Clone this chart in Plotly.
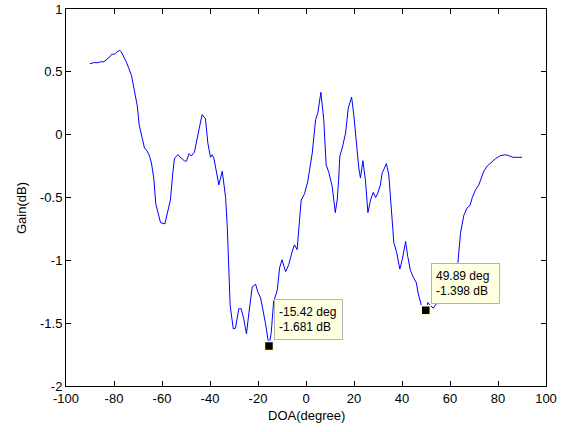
import plotly.graph_objects as go

doa = [-90.0, -88.4, -86.7, -85.6, -84.2, -82.8, -81.7, -81.0, -79.8, -78.7, -77.6, -77.0,
       -75.9, -74.8, -73.8, -72.7, -72.0, -71.0, -70.3, -69.5, -68.3, -67.3, -66.2, -65.2,
       -64.4, -63.4, -62.6, -60.6, -58.8, -57.6, -56.5, -55.5, -54.8, -53.4, -52.0, -50.6,
       -49.8, -48.7, -47.8, -46.5, -45.3, -44.2, -43.3, -41.9, -40.9, -39.8, -39.1, -38.4,
       -37.3, -36.3, -34.9, -34.3, -33.5, -32.8, -32.1, -31.6, -30.3, -29.4, -28.0, -27.0,
       -25.9, -24.8, -23.8, -22.4, -21.0, -20.1, -18.9, -17.8, -16.9, -15.42, -14.5, -13.5,
       -12.0, -11.0, -10.0, -8.5, -7.2, -5.75, -4.8, -3.7, -2.0, -0.6, 0.75, 2.6,
       4.0, 4.9, 6.2, 7.4, 8.4, 9.5, 10.2, 10.9, 12.2, 13.0, 13.6, 14.1,
       15.1, 16.5, 17.6, 19.0, 19.9, 20.9, 22.0, 22.7, 23.7, 24.8, 25.8, 26.9,
       28.0, 29.0, 29.9, 31.0, 31.75, 32.7, 33.5, 34.5, 35.6, 36.6, 37.7, 39.1,
       40.1, 41.5, 42.4, 43.5, 44.6, 46.0, 46.7, 47.7, 48.5, 49.89, 50.8, 51.9,
       53.0, 55.0, 57.0, 59.0, 61.0, 63.3, 64.4, 65.8, 67.2, 68.3, 69.3, 70.6,
       72.0, 73.0, 74.1, 75.5, 77.2, 79.0, 81.0, 83.1, 84.5, 86.3, 88.3, 90.0]

gain = [0.565, 0.573, 0.573, 0.58, 0.58, 0.60, 0.62, 0.64, 0.64, 0.66, 0.67, 0.66,
        0.62, 0.576, 0.525, 0.47, 0.40, 0.31, 0.23, 0.077, -0.013, -0.106, -0.13, -0.17,
        -0.225, -0.35, -0.55, -0.70, -0.71, -0.62, -0.52, -0.305, -0.19, -0.16, -0.185, -0.21,
        -0.21, -0.15, -0.17, -0.14, -0.026, 0.08, 0.16, 0.127, -0.066, -0.18, -0.16, -0.185,
        -0.29, -0.40, -0.29, -0.37, -0.50, -0.73, -1.05, -1.36, -1.545, -1.54, -1.385, -1.385,
        -1.47, -1.585, -1.42, -1.21, -1.19, -1.25, -1.30, -1.40, -1.50, -1.681, -1.58, -1.33,
        -1.24, -1.06, -0.995, -1.09, -1.035, -0.93, -0.876, -0.915, -0.52, -0.47, -0.37, -0.146,
        0.12, 0.17, 0.337, 0.12, -0.24, -0.30, -0.37, -0.41, -0.62, -0.52, -0.36, -0.17,
        -0.106, 0.013, 0.21, 0.30, 0.16, -0.066, -0.265, -0.345, -0.207, -0.37, -0.62, -0.52,
        -0.46, -0.50, -0.465, -0.40, -0.305, -0.265, -0.23, -0.32, -0.60, -0.86, -0.93, -1.07,
        -0.995, -0.85, -0.97, -1.08, -1.13, -1.18, -1.26, -1.345, -1.39, -1.398, -1.335, -1.36,
        -1.38, -1.33, -1.26, -1.19, -1.10, -1.017, -0.78, -0.64, -0.58, -0.565, -0.50, -0.44,
        -0.40, -0.35, -0.29, -0.25, -0.22, -0.19, -0.167, -0.16, -0.167, -0.18, -0.18, -0.18]

tip_doa = [-15.42, 49.89]
tip_gain = [-1.681, -1.398]
tip_text = ["-15.42 deg<br>-1.681 dB", "49.89 deg<br>-1.398 dB"]

x_ticks = [-100, -80, -60, -40, -20, 0, 20, 40, 60, 80, 100]
x_labels = ["-100", "-80", "-60", "-40", "-20", "0", "20", "40", "60", "80", "100"]
y_ticks = [-2, -1.5, -1, -0.5, 0, 0.5, 1]
y_labels = ["-2", "-1.5", "-1", "-0.5", "0", "0.5", "1"]

FONT = "Liberation Sans, Arial, sans-serif"
PLOT_H = 432 - 9 - 46

fig = go.Figure()
fig.add_trace(go.Scatter(x=doa, y=gain, mode="lines",
                         line=dict(color="#0000ff", width=1), showlegend=False,
                         hoverinfo="skip"))
fig.add_trace(go.Scatter(x=tip_doa, y=tip_gain, mode="markers",
                         marker=dict(symbol="square", size=9, color="black",
                                     line=dict(color="#ffffd0", width=1.5)),
                         showlegend=False, hoverinfo="skip"))

annotations = []
for xv, yv, t in zip(tip_doa, tip_gain, tip_text):
    annotations.append(dict(x=xv, y=yv, xref="x", yref="y", text=t, showarrow=False,
                            xanchor="left", yanchor="bottom", xshift=5, yshift=6,
                            align="left", width=59, height=31, borderpad=4,
                            bgcolor="#ffffe1", bordercolor="#b4b4b4", borderwidth=1,
                            font=dict(family=FONT, size=12, color="black")))

annotations.append(dict(x=0.5, y=(386 - 415) / PLOT_H, xref="paper", yref="paper",
                        text="DOA(degree)", showarrow=False, yanchor="middle",
                        font=dict(family=FONT, size=13, color="black")))
annotations.append(dict(x=(21 - 66) / 480, y=(386 - 208) / PLOT_H, xref="paper", yref="paper",
                        text="Gain(dB)", showarrow=False, textangle=-90,
                        xanchor="center", yanchor="middle",
                        font=dict(family=FONT, size=13, color="black")))

fig.update_layout(
    width=571, height=432,
    margin=dict(l=66, r=25, t=9, b=46, autoexpand=False),
    paper_bgcolor="white", plot_bgcolor="white",
    font=dict(family=FONT, size=13, color="black"),
    annotations=annotations,
)

fig.update_xaxes(range=[-100, 100], tickvals=x_ticks, ticktext=x_labels,
                 ticks="inside", ticklen=5, tickcolor="black", tickwidth=1,
                 showline=True, linecolor="black", linewidth=1, mirror="ticks",
                 showgrid=False, zeroline=False, automargin=False,
                 tickfont=dict(family=FONT, size=13, color="black"))
fig.update_yaxes(range=[-2, 1], tickvals=y_ticks, ticktext=y_labels,
                 ticks="inside", ticklen=5, tickcolor="black", tickwidth=1,
                 showline=True, linecolor="black", linewidth=1, mirror="ticks",
                 showgrid=False, zeroline=False, automargin=False,
                 tickfont=dict(family=FONT, size=13, color="black"))

fig.write_html("out.html", config={"displayModeBar": False},
               post_script="document.body.style.margin='0';")
